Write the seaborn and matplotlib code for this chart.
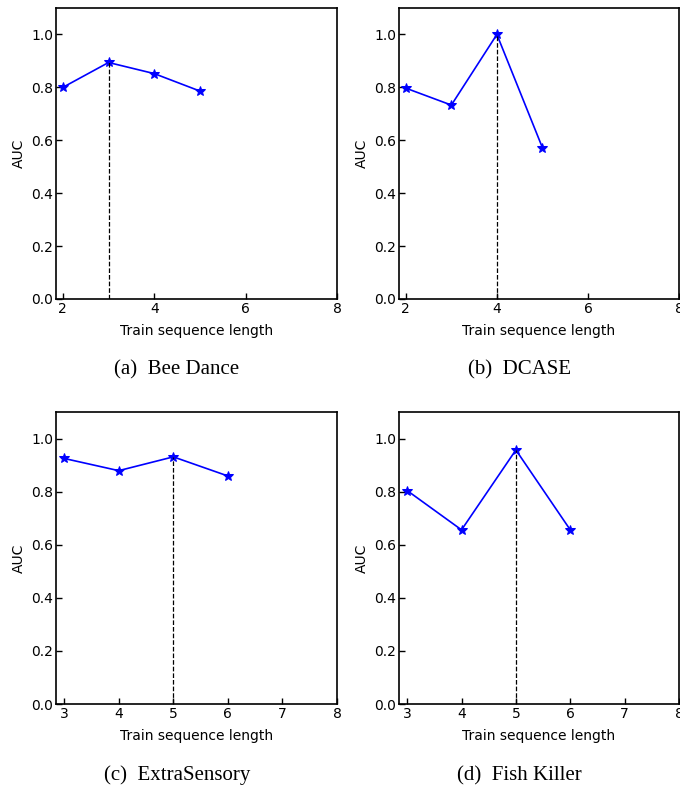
import matplotlib
matplotlib.use("Agg")
import matplotlib.pyplot as plt
import seaborn as sns
import pandas as pd

# AUC per train sequence length, one panel per dataset
bee_len = [2, 3, 4, 5]
bee_auc = [0.800, 0.894, 0.852, 0.786]

dcase_len = [2, 3, 4, 5]
dcase_auc = [0.797, 0.733, 1.000, 0.572]

extra_len = [3, 4, 5, 6]
extra_auc = [0.925, 0.879, 0.931, 0.859]

fish_len = [3, 4, 5, 6]
fish_auc = [0.804, 0.656, 0.957, 0.656]

captions = ["(a)  Bee Dance", "(b)  DCASE", "(c)  ExtraSensory", "(d)  Fish Killer"]
y_ticks = [0.0, 0.2, 0.4, 0.6, 0.8, 1.0]

panels = [(bee_len, bee_auc), (dcase_len, dcase_auc),
          (extra_len, extra_auc), (fish_len, fish_auc)]

sns.set_theme(style="white")
plt.rcParams["font.family"] = ["DejaVu Sans"]
plt.rcParams.update({"text.color": "black", "axes.labelcolor": "black",
                     "xtick.color": "black", "ytick.color": "black"})

W, H = 680, 787
fig = plt.figure(figsize=(W / 100, H / 100), dpi=100)

# axes boxes in pixels: left, top, right, bottom
boxes = [(56, 8, 337, 299), (399, 8, 679, 299),
         (56, 412, 337, 704), (399, 412, 679, 704)]

for (xs, ys), (l, t, r, b), cap in zip(panels, boxes, captions):
    ax = fig.add_axes([l / W, 1 - b / H, (r - l) / W, (b - t) / H])
    df = pd.DataFrame({"length": xs, "auc": ys})
    sns.lineplot(data=df, x="length", y="auc", ax=ax, color="blue",
                 marker="*", markersize=7, markeredgecolor="blue",
                 linewidth=1.2)
    best = df.loc[df["auc"].idxmax()]
    ax.vlines(best["length"], 0, best["auc"], colors="black",
              linestyles="--", linewidth=0.9)
    lo = min(xs) - 0.05 * (max(xs) - min(xs))
    ax.set_xlim(lo, 8)
    ax.set_ylim(0, 1.1)
    ax.set_yticks(y_ticks)
    ax.set_yticklabels([f"{v:.1f}" for v in y_ticks])
    ax.tick_params(direction="in", length=4, width=1, labelsize=10,
                   color="black", labelcolor="black", pad=2,
                   bottom=True, left=True)
    for s in ax.spines.values():
        s.set_color("black")
        s.set_linewidth(1.2)
    ax.set_xlabel("Train sequence length", fontsize=10, labelpad=6)
    ax.set_ylabel("AUC", fontsize=10, labelpad=4)
    ax.text(0.43, -0.245, cap, transform=ax.transAxes, ha="center",
            va="center", fontsize=15, color="black",
            family="Liberation Serif")

fig.savefig("out.png", dpi=100)
